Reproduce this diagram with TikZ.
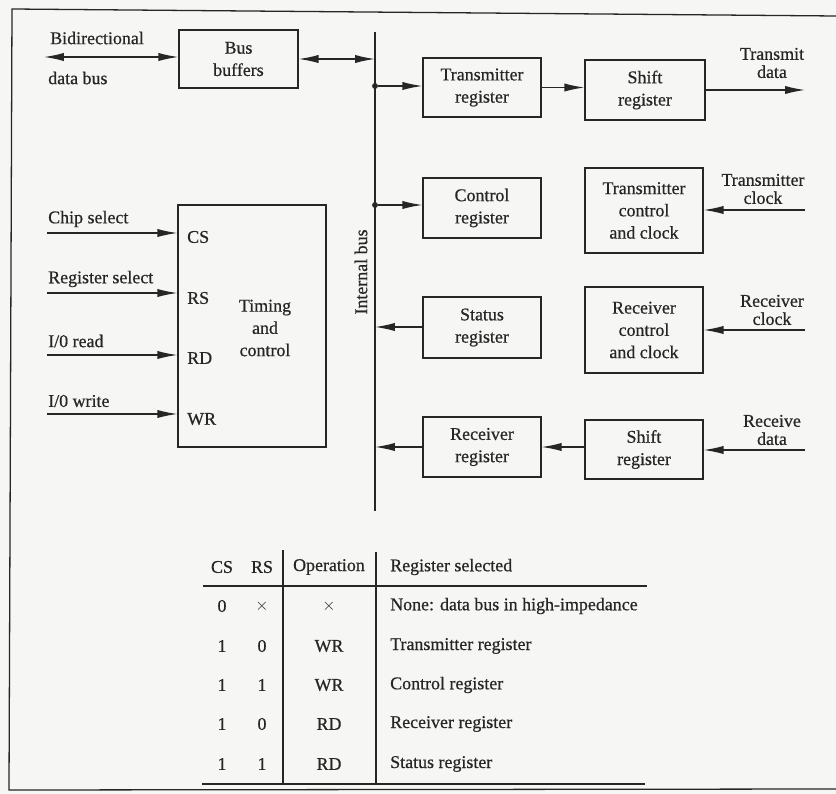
\documentclass[tikz,border=0pt]{standalone}
\usepackage{fontspec}
\setmainfont{Liberation Serif}[BoldFont=Liberation Serif, BoldFeatures={FakeBold=0.6}]
\usetikzlibrary{arrows.meta}
\definecolor{ink}{HTML}{262626}
\definecolor{paper}{HTML}{F6F6F4}
\begin{document}
\begin{tikzpicture}[x=0.03cm,y=-0.03cm,
  font=\fontsize{15.3}{19}\selectfont\bfseries,
  every node/.style={text=ink},
  line/.style={draw=ink, line width=1.1pt},
  box/.style={line, rectangle, align=center, inner sep=0pt,
              minimum width=3.54cm, minimum height=1.8cm},
  arr/.style={line, -{Latex[length=17pt,width=7pt]}},
  darr/.style={line, {Latex[length=17pt,width=7pt]}-{Latex[length=17pt,width=7pt]}},
  lbl/.style={inner sep=0pt, anchor=west},
  rlbl/.style={inner sep=0pt, align=center, font=\fontsize{15.3}{15.5}\selectfont\bfseries},
  cell/.style={inner sep=0pt},
  junction/.style={circle, fill=ink, inner sep=0pt, minimum size=5pt},
  rule/.style={draw=ink, line width=1.7pt}]

% page and frame
\fill[paper] (0,0) rectangle (836,794);
\useasboundingbox (0,0) rectangle (836,794);
\draw[line] (836,16) -- (12,9) -- (9,790) -- (836,789);

% ---------------- blocks ----------------
\node[box, minimum width=3.57cm, minimum height=1.74cm] (buf) at (238.5,59) {Bus\\buffers};
\node[box, minimum width=4.44cm, minimum height=7.26cm] (timing) at (252,326) {};
\node[rlbl, font=\fontsize{15.3}{19}\selectfont\bfseries] (timtxt) at (265,328) {Timing\\and\\control};
\node[lbl] (pcs) at (187,237) {CS};
\node[lbl] (prs) at (187,298) {RS};
\node[lbl] (prd) at (187,358) {RD};
\node[lbl] (pwr) at (187,419) {WR};

\node[box, minimum height=1.77cm] (txreg) at (482,87.5) {Transmitter\\register};
\node[box, minimum width=3.6cm] (txsh) at (645,90) {Shift\\register};
\node[box] (ctrl) at (482,208) {Control\\register};
\node[box, minimum height=2.55cm] (txcc) at (644,210.5) {Transmitter\\control\\and clock};
\node[box, minimum height=1.83cm] (stat) at (482,327.5) {Status\\register};
\node[box, minimum height=2.58cm] (rxcc) at (644,330) {Receiver\\control\\and clock};
\node[box] (rxreg) at (482,447) {Receiver\\register};
\node[box, minimum height=1.77cm] (rxsh) at (644,449.5) {Shift\\register};

% ---------------- internal bus ----------------
\coordinate (bustop) at (375,32);
\coordinate (busbot) at (375,511);
\draw[line] (bustop) -- (busbot);
\node[rotate=90, inner sep=0pt] (buslbl) at (361,272) {Internal bus};
\coordinate (busbuf) at (375,59);
\node[junction] (j1) at (375,86) {};
\node[junction] (j2) at (375,205) {};
\coordinate (b3) at (375,327);
\coordinate (b4) at (375,447);

\draw[darr] (buf.east |- busbuf) -- (busbuf);
\draw[arr] (j1) -- (j1 -| txreg.west);
\draw[arr] (j2) -- (j2 -| ctrl.west);
\draw[arr] (b3 -| stat.west) -- (b3);
\draw[arr] (b4 -| rxreg.west) -- (b4);

% ---------------- serial side ----------------
\draw[arr] (txreg.east) -- (txreg.east -| txsh.west);
\draw[arr] (rxsh.west |- rxreg.east) -- (rxreg.east);

\coordinate (txout) at (805,90);
\coordinate (txclk) at (805,210);
\coordinate (rxclk) at (805,330);
\coordinate (rxin) at (805,450);
\draw[arr] (txsh.east |- txout) -- (txout);
\draw[arr] (txclk) -- (txclk -| txcc.east);
\draw[arr] (rxclk) -- (rxclk -| rxcc.east);
\draw[arr] (rxin) -- (rxin -| rxsh.east);

\node[rlbl] (ltx) at (772,63) {Transmit\\data};
\node[rlbl] (ltc) at (763,189) {Transmitter\\clock};
\node[rlbl] (lrc) at (772,310) {Receiver\\clock};
\node[rlbl] (lrd) at (772,430) {Receive\\data};

% ---------------- processor side ----------------
\coordinate (dbus) at (44,57);
\draw[darr] (dbus) -- (dbus -| buf.west);
\node[lbl] (lbid) at (50,38) {Bidirectional};
\node[lbl] (ldb) at (48,78) {data bus};

\coordinate (incs) at (47,233);
\coordinate (inrs) at (47,293);
\coordinate (inrd) at (47,355);
\coordinate (inwr) at (47,414);
\draw[arr] (incs) -- (incs -| timing.west);
\draw[arr] (inrs) -- (inrs -| timing.west);
\draw[arr] (inrd) -- (inrd -| timing.west);
\draw[arr] (inwr) -- (inwr -| timing.west);
\node[lbl] (lcs) at (48,219) {Chip select};
\node[lbl] (lrs) at (48,279) {Register select};
\node[lbl] (lrd) at (48,341) {I/0 read};
\node[lbl] (lwr) at (48,401) {I/0 write};

% ---------------- selection table ----------------
\draw[line] (283,550) -- (283,783);
\draw[line] (376,552) -- (376,783);
\draw[rule] (203,586) -- (647,586);
\draw[rule] (202,784) -- (645,784);

\node[cell] (h1) at (222,567) {CS};
\node[cell] (h2) at (262,567) {RS};
\node[cell] (h3) at (329,567) {Operation};
\node[cell, anchor=west] (h4) at (390,567) {Register selected};

\foreach \y/\cs/\rs/\op/\reg [count=\i] in
  {606/0/$\times$/$\times$/None: data bus in high-impedance,
   646/1/0/WR/Transmitter register,
   685/1/1/WR/Control register,
   724/1/0/RD/Receiver register,
   764/1/1/RD/Status register}
{
  \node[cell] (r\i cs) at (222,\y) {\cs};
  \node[cell] (r\i rs) at (262,\y) {\rs};
  \node[cell] (r\i op) at (329,\y) {\op};
  \node[cell, anchor=west] (r\i reg) at (390,\y) {\reg};
}
\end{tikzpicture}
\end{document}
